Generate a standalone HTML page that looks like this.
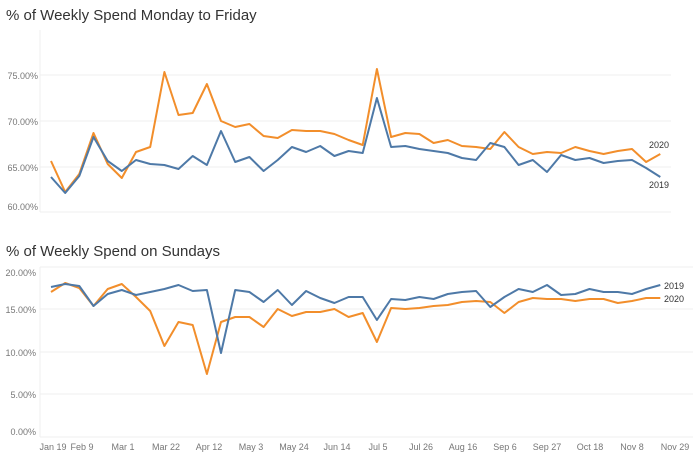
<!DOCTYPE html><html><head><style>body{margin:0;background:#fff}svg{display:block;font-family:"Liberation Sans",sans-serif}</style></head><body>
<svg width="700" height="462" viewBox="0 0 700 462">
<text x="6" y="20" font-size="15" fill="#333">% of Weekly Spend Monday to Friday</text>
<text x="6" y="256" font-size="15" fill="#333">% of Weekly Spend on Sundays</text>
<g stroke="#efefef" stroke-width="1">
<line x1="40" y1="75" x2="671" y2="75"/><line x1="40" y1="121" x2="671" y2="121"/><line x1="40" y1="167" x2="671" y2="167"/><line x1="40" y1="212" x2="671" y2="212"/>
<line x1="40" y1="267" x2="693" y2="267"/><line x1="40" y1="309" x2="693" y2="309"/><line x1="40" y1="352" x2="693" y2="352"/><line x1="40" y1="394" x2="693" y2="394"/><line x1="40" y1="437" x2="693" y2="437"/>
<line x1="40" y1="30" x2="40" y2="212"/><line x1="40" y1="267" x2="40" y2="437"/>
</g>
<g font-size="9" fill="#777" text-anchor="end">
<text x="38" y="79">75.00%</text><text x="38" y="125">70.00%</text><text x="38" y="171">65.00%</text><text x="38" y="210">60.00%</text>
<text x="36" y="276">20.00%</text><text x="36" y="313">15.00%</text><text x="36" y="356">10.00%</text><text x="36" y="398">5.00%</text><text x="36" y="435">0.00%</text>
</g>
<g font-size="9" fill="#777" text-anchor="middle">
<text x="53" y="450">Jan 19</text><text x="82" y="450">Feb 9</text><text x="123" y="450">Mar 1</text><text x="166" y="450">Mar 22</text><text x="209" y="450">Apr 12</text><text x="251" y="450">May 3</text><text x="294" y="450">May 24</text><text x="337" y="450">Jun 14</text><text x="378" y="450">Jul 5</text><text x="421" y="450">Jul 26</text><text x="463" y="450">Aug 16</text><text x="505" y="450">Sep 6</text><text x="547" y="450">Sep 27</text><text x="590" y="450">Oct 18</text><text x="632" y="450">Nov 8</text><text x="675" y="450">Nov 29</text>
</g>
<g fill="none" stroke-width="2" stroke-linejoin="round">
<polyline id="o1" stroke="#f28e2b" points=""/>
<polyline id="b1" stroke="#4e79a7" points=""/>
<polyline id="o2" stroke="#f28e2b" points=""/>
<polyline id="b2" stroke="#4e79a7" points=""/>
</g>
<g font-size="9" fill="#333">
<text x="649" y="148">2020</text><text x="649" y="188">2019</text>
<text x="664" y="289">2019</text><text x="664" y="302">2020</text>
</g>
</svg>
<script>
var d={o1:[161,192,174,133,164,178,152,147,72,115,113,84,121,127,124,136,138,130,131,131,134,140,145,69,137,133,134,143,140,146,147,149,132,147,154,152,153,147,151,154,151,149,162,154],
b1:[177,193,176,137,161,171,160,164,165,169,156,165,131,162,157,171,160,147,152,146,156,151,153,98,147,146,149,151,153,158,160,143,147,165,160,172,155,160,158,163,161,160,168,177],
o2:[292,283,288,306,289,284,297,311,346,322,325,374,322,317,317,327,309,316,312,312,309,317,313,342,308,309,308,306,305,302,301,302,313,302,298,299,299,301,299,299,303,301,298,298],
b2:[287,284,286,306,294,290,295,292,289,285,291,290,353,290,292,302,290,305,291,298,303,297,297,320,299,300,297,299,294,292,291,307,297,289,292,285,295,294,289,292,292,294,289,285]};
for(var k in d){document.getElementById(k).setAttribute('points',d[k].map(function(y,i){return (51+14.17*i).toFixed(1)+','+y}).join(' '));}
</script>
</body></html>
